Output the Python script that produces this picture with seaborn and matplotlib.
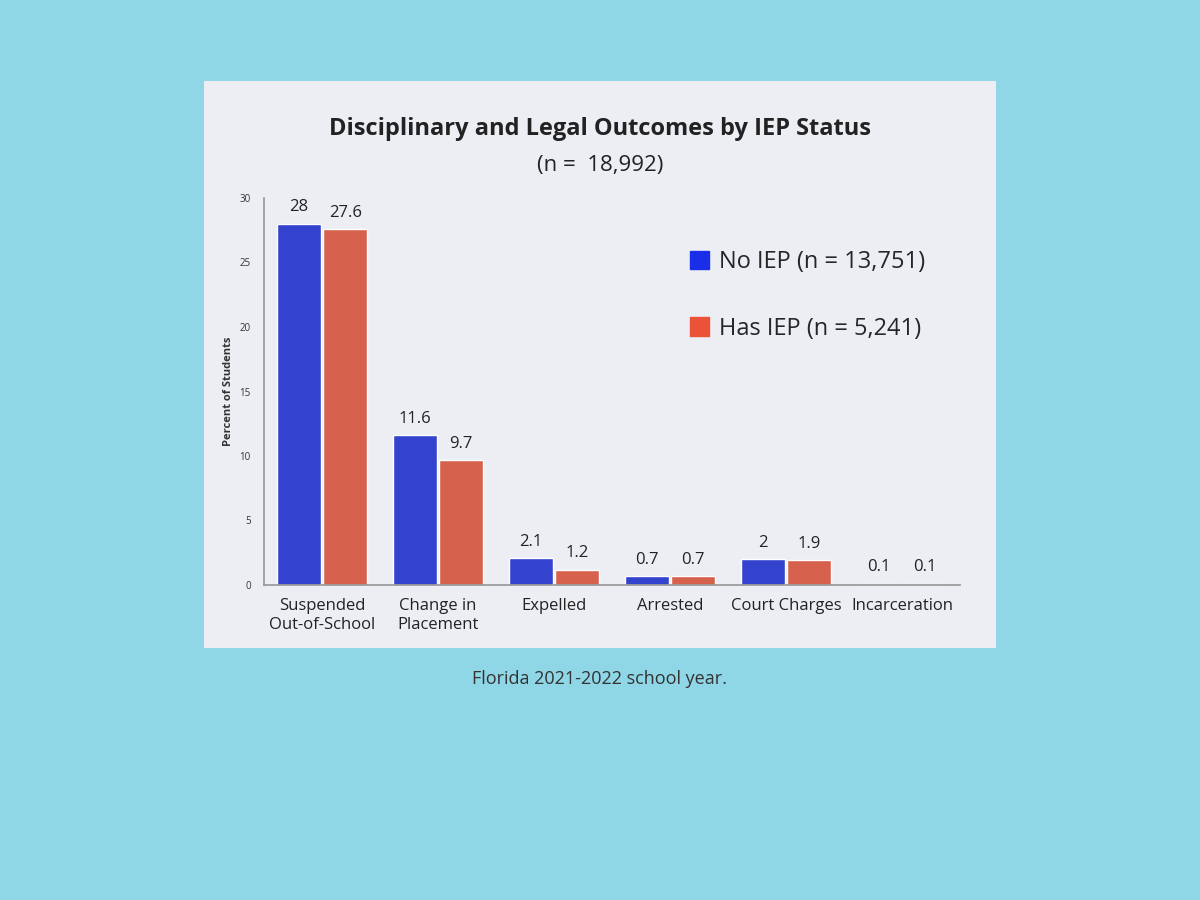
import pandas as pd
import seaborn as sns
import matplotlib.pyplot as plt
import matplotlib.patches as mpatches

categories = ['Suspended\nOut-of-School', 'Change in\nPlacement', 'Expelled',
              'Arrested', 'Court Charges', 'Incarceration']
no_iep = [28, 11.6, 2.1, 0.7, 2, 0.1]
has_iep = [27.6, 9.7, 1.2, 0.7, 1.9, 0.1]
groups = ['No IEP (n = 13,751)', 'Has IEP (n = 5,241)']
colors = ['#1a2ee8', '#ec5238']

df = pd.DataFrame({
    'category': categories * 2,
    'value': no_iep + has_iep,
    'group': [groups[0]] * len(categories) + [groups[1]] * len(categories),
})

sns.set_theme(style='white')
plt.rcParams['font.family'] = ['Open Sans', 'DejaVu Sans']

fig = plt.figure(figsize=(12, 9), dpi=100)
fig.patch.set_facecolor('#8fd6e6')

# slide panel drawn as a background axes
panel = fig.add_axes([0.17, 0.28, 0.66, 0.63], zorder=0)
panel.set_facecolor('#eceef4')
panel.set_xticks([])
panel.set_yticks([])
for s in panel.spines.values():
    s.set_visible(False)

ax = fig.add_axes([0.22, 0.35, 0.58, 0.43], zorder=2)
ax.set_facecolor('none')
sns.barplot(data=df, x='category', y='value', hue='group', palette=colors,
            width=0.8, gap=0.05, ax=ax, legend=False)

for container in ax.containers:
    ax.bar_label(container, labels=[f'{v:g}' for v in container.datavalues],
                 padding=6, fontsize=12, color='#222222')

ax.set_ylim(0, 30)
ax.set_yticks(range(0, 31, 5))
ax.tick_params(axis='y', labelsize=7, colors='#333333')
ax.tick_params(axis='x', labelsize=12, colors='#222222')
ax.set_xlabel('')
ax.set_ylabel('Percent of Students', fontsize=8, fontweight='bold', color='#333333')
sns.despine(ax=ax)
ax.spines['left'].set_color('#999999')
ax.spines['bottom'].set_color('#999999')

handles = [mpatches.Patch(color=c, label=g) for c, g in zip(colors, groups)]
ax.legend(handles=handles, loc='upper right', bbox_to_anchor=(0.98, 0.92), frameon=False,
          fontsize=17, labelspacing=1.8, handlelength=0.8, handleheight=0.8, handletextpad=0.4)

fig.text(0.5, 0.85, 'Disciplinary and Legal Outcomes by IEP Status', ha='center',
         fontsize=17, fontweight='bold', color='#222222', zorder=3)
fig.text(0.5, 0.81, '(n =  18,992)', ha='center', fontsize=16, color='#222222', zorder=3)
fig.text(0.5, 0.24, 'Florida 2021-2022 school year.', ha='center', fontsize=13,
         color='#333333', zorder=3)

fig.savefig('out.png', dpi=100, facecolor=fig.get_facecolor())
